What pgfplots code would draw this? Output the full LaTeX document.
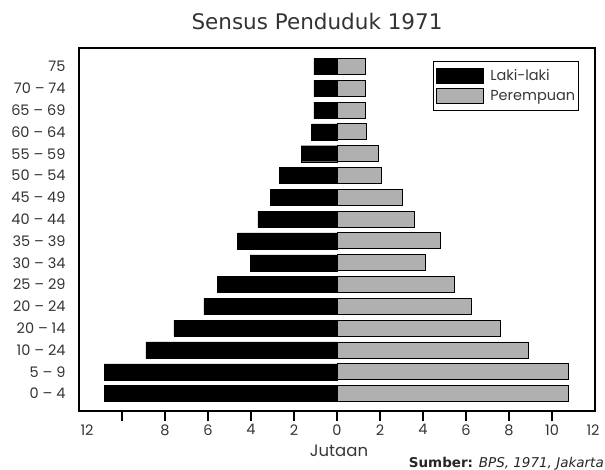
\documentclass[border=0pt]{standalone}
\usepackage{pgfplots}
\pgfplotsset{compat=1.18}
\usepackage{fontspec}
\setmainfont{Poppins}
\newfontfamily\dejavu[BoldFont={DejaVu Sans Bold},ItalicFont={DejaVu Sans Oblique}]{DejaVu Sans}
\definecolor{fem}{RGB}{176,176,176}
\begin{document}
\begin{tikzpicture}[x=1bp,y=1bp]
\path[use as bounding box] (0,0) rectangle (605,-470);
\begin{axis}[
  at={(79bp,-411bp)}, anchor=south west,
  scale only axis, width=516bp, height=363bp,
  xmin=-12, xmax=12, ymin=-0.8, ymax=15.85,
  xbar, bar width=16bp, bar shift=0pt,
  axis line style={line width=1.4bp},
  xtick={-10,-8,...,10},
  xticklabels={,8,6,4,2,0,2,4,6,8,10},
  extra x ticks={-12,12}, extra x tick labels={\hspace*{16bp}12,12\hspace*{4bp}},
  extra x tick style={major tick length=0pt, xticklabel style={yshift=-10bp}},
  xtick pos=bottom, tick align=outside, major tick length=10bp,
  xtick style={line width=1.4bp, black},
  ytick={0,...,15},
  yticklabels={0 – 4,5 – 9,10 – 24,20 – 14,20 – 24,25 – 29,30 – 34,35 – 39,40 – 44,45 – 49,50 – 54,55 – 59,60 – 64,65 – 69,70 – 74,75},
  ytick style={draw=none},
  tick label style={font=\fontsize{14.5bp}{16bp}\selectfont, color=black!80},
  legend style={at={(0.686,0.964)}, anchor=north west, draw=black, line width=1.4bp,
    font=\fontsize{14.5bp}{16bp}\selectfont, text=black!78, row sep=4bp,
    inner xsep=2bp, inner ysep=6.5bp, nodes={inner sep=1.5bp}},
  legend cell align=left,
  legend image code/.code={\draw[#1, line width=0.8bp] (0bp,-7.5bp) rectangle (47bp,7.5bp); \path (52bp,0bp);},
]
\addplot[fill=black, draw=black, bar shift=0pt, bar width=16bp] coordinates {
(-10.82,0) (-10.82,1) (-8.89,2) (-7.59,3) (-6.19,4) (-5.57,5) (-4.04,6) (-4.62,7)
(-3.68,8) (-3.11,9) (-2.69,10) (-1.67,11) (-1.18,12) (-1.08,13) (-1.08,14) (-1.08,15)};
\addlegendentry{Laki-laki}
\addplot[fill=fem, draw=black, line width=0.9bp, bar shift=0pt, bar width=16bp] coordinates {
(10.76,0) (10.76,1) (8.89,2) (7.61,3) (6.27,4) (5.46,5) (4.12,6) (4.80,7)
(3.61,8) (3.05,9) (2.09,10) (1.94,11) (1.39,12) (1.32,13) (1.32,14) (1.32,15)};
\addlegendentry{Perempuan}
\end{axis}
\node[anchor=base, inner sep=0pt, text=black!80] at (317,-30) {\dejavu\fontsize{21.5bp}{24bp}\selectfont Sensus Penduduk 1971};
\node[anchor=base, inner sep=0pt, text=black!78] at (339,-456) {\fontsize{16.5bp}{18bp}\selectfont Jutaan};
\node[anchor=base east, inner sep=0pt, text=black!85] at (604,-467) {\dejavu\fontsize{13.5bp}{15bp}\selectfont\textbf{Sumber:} \textit{BPS, 1971, Jakarta}};
\end{tikzpicture}
\end{document}
